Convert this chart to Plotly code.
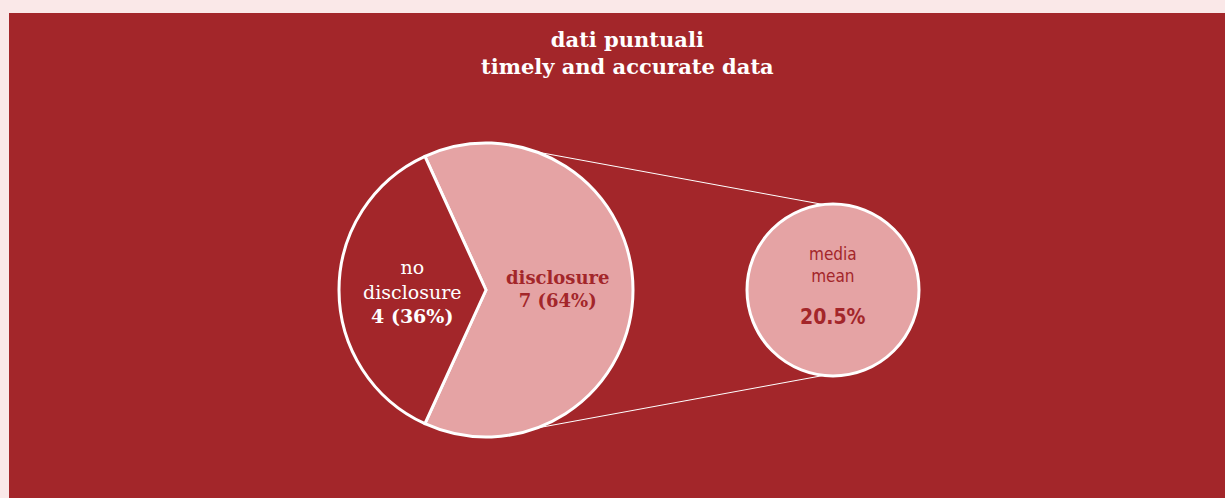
import math
import plotly.graph_objects as go

# ---- data ----
categories = ["disclosure", "no disclosure"]
counts = [7, 4]
mean_label_it = "media"
mean_label_en = "mean"
mean_value = 20.5
title_it = "dati puntuali"
title_en = "timely and accurate data"

# ---- style ----
W, H = 1225, 498
PAGE_BG = "#FAE8E8"
RED = "#A3262A"
PINK = "#E5A3A4"
WHITE = "#FFFFFF"
SERIF = "DejaVu Serif"
NARROW = "Liberation Sans Narrow, DejaVu Sans Condensed, Roboto, sans-serif"

def px(x):
    return x / W

def py(y):
    return 1 - y / H

# pie geometry (pixels)
cx, cy, r = 486, 290, 147
# mean circle geometry
mx, my, mr = 833, 290, 86

total = sum(counts)
pcts = [round(100 * c / total) for c in counts]
no_share = counts[1] / total
start_angle = 270 + 360 * no_share / 2  # clock degrees from top
rotation = start_angle - 360

fig = go.Figure()
fig.add_trace(go.Pie(
    labels=categories,
    values=counts,
    sort=False,
    direction="clockwise",
    rotation=rotation,
    marker=dict(colors=[PINK, RED], line=dict(color=WHITE, width=3)),
    textinfo="none",
    hoverinfo="label+value+percent",
    showlegend=False,
    domain=dict(x=[px(cx - r), px(cx + r)], y=[py(cy + r), py(cy - r)]),
))

shapes = [
    dict(type="rect", xref="paper", yref="paper", x0=px(9), x1=1, y0=0, y1=py(13),
         fillcolor=RED, line=dict(width=0), layer="below"),
]
ang = math.radians(20)
p_top = (cx + r * math.sin(ang), cy - r * math.cos(ang))
p_bot = (cx + r * math.sin(ang), cy + r * math.cos(ang))
c_top = (mx - 7, my - mr + 1)
c_bot = (mx - 7, my + mr - 1)
for a, b in [(p_top, c_top), (p_bot, c_bot)]:
    shapes.append(dict(type="line", xref="paper", yref="paper",
                       x0=px(a[0]), y0=py(a[1]), x1=px(b[0]), y1=py(b[1]),
                       line=dict(color=WHITE, width=1), layer="above"))
shapes.append(dict(type="circle", xref="paper", yref="paper",
                   x0=px(mx - mr), x1=px(mx + mr), y0=py(my + mr), y1=py(my - mr),
                   fillcolor=PINK, line=dict(color=WHITE, width=3), layer="above"))

annotations = [
    dict(text=f"<b>{title_it}</b><br><b>{title_en}</b>", x=px(627), y=py(53), xref="paper", yref="paper",
         showarrow=False, font=dict(family=SERIF, size=21, color=WHITE),
         xanchor="center", yanchor="middle"),
    dict(text=f"no<br>disclosure<br><b>{counts[1]} ({pcts[1]}%)</b>",
         x=px(412), y=py(291), xref="paper", yref="paper", showarrow=False,
         font=dict(family=SERIF, size=19, color=WHITE), xanchor="center", yanchor="middle"),
    dict(text=f"<b>{categories[0]}</b><br><b>{counts[0]} ({pcts[0]}%)</b>",
         x=px(558), y=py(289), xref="paper", yref="paper", showarrow=False,
         font=dict(family=SERIF, size=18, color=RED), xanchor="center", yanchor="middle"),
    dict(text=f"{mean_label_it}<br>{mean_label_en}",
         x=px(833), y=py(265), xref="paper", yref="paper", showarrow=False,
         font=dict(family=NARROW, size=17, color=RED), xanchor="center", yanchor="middle"),
    dict(text=f"<b>{mean_value}%</b>",
         x=px(833), y=py(317), xref="paper", yref="paper", showarrow=False,
         font=dict(family=NARROW, size=21, color=RED), xanchor="center", yanchor="middle"),
]

fig.update_layout(
    width=W, height=H,
    margin=dict(l=0, r=0, t=0, b=0),
    paper_bgcolor=PAGE_BG,
    plot_bgcolor=PAGE_BG,
    shapes=shapes,
    annotations=annotations,
)

fig.write_html(
    "out.html",
    config={"displayModeBar": False},
    post_script="document.body.style.margin='0';document.body.style.background='#FAE8E8';",
)
